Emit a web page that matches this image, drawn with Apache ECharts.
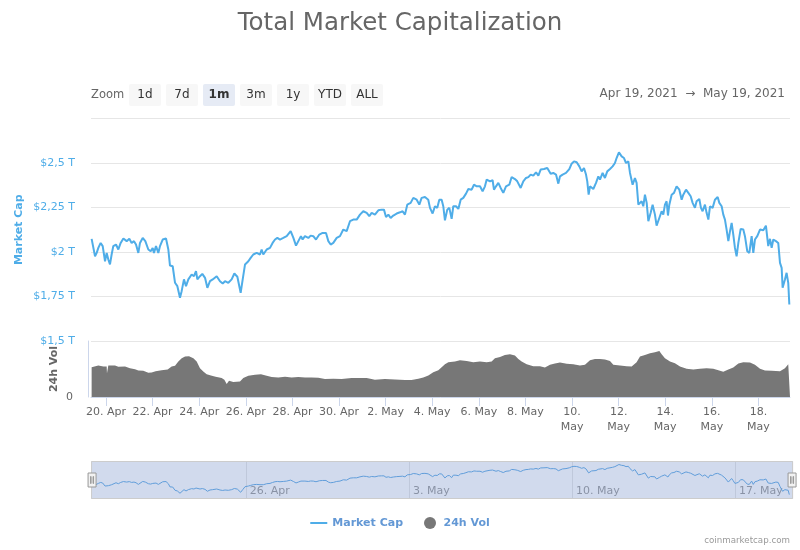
<!DOCTYPE html>
<html><head><meta charset="utf-8">
<script src="https://cdn.jsdelivr.net/npm/echarts@6/dist/echarts.min.js"></script>
<style>html,body{margin:0;padding:0;background:#fff}#c{width:800px;height:550px}</style>
</head><body><div id="c"></div>
<script>
// Hours since 2021-04-19 00:00 and market cap in trillions USD
const capHours = [9.2,12.7,14.4,16.1,18.5,20.6,23.0,24.7,26.4,28.1,29.8,31.5,34.3,36.7,39.1,41.9,45.3,48.0,50.4,52.8,54.9,57.3,59.0,61.8,64.5,67.6,70.0,72.1,73.4,75.5,77.9,79.6,82.4,85.8,88.2,89.9,92.7,95.1,97.5,100.2,101.9,104.3,106.4,108.8,112.2,114.6,116.7,118.1,120.8,123.2,126.0,128.4,131.1,133.9,138.0,141.4,144.2,146.6,150.0,153.4,156.2,159.3,161.3,162.7,164.8,167.2,170.6,173.0,175.7,179.2,182.6,184.3,186.0,189.5,192.9,195.6,198.1,200.5,203.2,206.6,210.1,214.2,217.0,219.7,222.1,224.8,226.5,228.9,232.4,234.8,237.5,240.3,243.7,247.1,250.6,253.0,255.4,258.1,261.6,265.0,268.4,271.9,275.3,278.7,282.2,285.6,289.0,292.5,295.2,297.6,301.0,304.5,307.9,310.3,312.4,314.8,317.2,319.9,323.4,326.8,329.5,331.9,334.3,337.8,340.5,344.0,346.7,349.1,352.5,354.2,355.9,357.7,360.4,362.8,365.2,367.3,
369.7,371.4,373.1,375.5,377.6,380.0,381.7,384.5,386.9,389.3,392.0,394.8,397.2,400.6,403.0,405.8,409.2,411.9,414.3,416.1,419.5,422.2,423.6,425.7,428.1,430.5,433.2,436.0,439.4,441.8,445.2,447.6,451.1,453.8,456.6,459.0,461.4,464.1,466.9,469.3,471.7,475.1,478.5,482.0,484.7,487.5,489.9,491.6,494.3,497.8,501.2,503.6,506.0,508.8,511.5,513.9,516.3,518.4,519.7,521.1,522.5,524.2,525.9,528.7,531.1,532.8,535.5,537.9,540.3,543.1,545.8,548.2,549.9,552.3,555.1,557.5,559.6,562.0,563.7,566.4,568.8,570.5,572.3,574.0,575.7,577.4,579.1,580.9,582.6,585.0,587.0,589.4,591.1,593.9,596.3,598.0,599.7,601.4,602.8,604.2,606.6,609.0,611.7,614.5,616.9,618.6,621.4,623.8,626.2,628.2,630.6,632.3,635.1,636.8,638.5,640.9,642.6,644.4,646.1,648.8,651.2,654.0,655.7,658.1,659.8,661.5,663.2,665.0,666.7,668.4,670.1,671.8,673.5,675.3,677.7,680.4,682.1,684.5,686.6,689.0,690.7,692.4,694.8,697.6,701.0,703.7,706.1,707.9,709.6,711.3,714.0,716.4,718.2,719.9,720.9,723.3,725.0,726.7,727.8];
const capValues = [2.074,1.976,1.995,2.023,2.051,2.033,1.948,1.995,1.958,1.930,1.986,2.033,2.042,2.014,2.051,2.076,2.061,2.074,2.051,2.061,2.042,1.995,2.051,2.079,2.061,2.014,2.004,2.023,1.995,2.033,1.995,2.033,2.070,2.076,2.014,1.924,1.920,1.827,1.808,1.743,1.780,1.846,1.808,1.846,1.874,1.864,1.892,1.846,1.864,1.877,1.855,1.799,1.836,1.846,1.864,1.836,1.823,1.836,1.827,1.846,1.879,1.861,1.808,1.771,1.846,1.930,1.948,1.967,1.986,1.995,1.986,2.014,1.986,2.014,2.023,2.051,2.070,2.079,2.070,2.079,2.089,2.117,2.079,2.036,2.061,2.089,2.070,2.089,2.079,2.092,2.089,2.070,2.098,2.107,2.107,2.061,2.042,2.051,2.079,2.089,2.126,2.117,2.173,2.182,2.182,2.210,2.229,2.220,2.201,2.220,2.210,2.234,2.238,2.238,2.197,2.210,2.191,2.205,2.216,2.223,2.229,2.210,2.266,2.276,2.304,2.294,2.266,2.304,2.309,2.313,2.294,2.248,2.216,2.257,2.248,2.294,
2.294,2.257,2.178,2.238,2.248,2.186,2.257,2.257,2.242,2.294,2.304,2.328,2.354,2.350,2.378,2.369,2.369,2.341,2.369,2.407,2.397,2.403,2.350,2.369,2.388,2.360,2.332,2.369,2.378,2.421,2.410,2.397,2.360,2.397,2.416,2.421,2.435,2.429,2.448,2.429,2.463,2.466,2.472,2.440,2.444,2.435,2.384,2.425,2.435,2.444,2.466,2.496,2.509,2.504,2.481,2.453,2.472,2.435,2.397,2.322,2.369,2.378,2.354,2.388,2.425,2.407,2.444,2.416,2.453,2.466,2.481,2.500,2.528,2.560,2.537,2.528,2.500,2.509,2.444,2.378,2.416,2.388,2.266,2.257,2.285,2.257,2.322,2.276,2.173,2.220,2.266,2.210,2.148,2.191,2.229,2.210,2.266,2.285,2.205,2.266,2.322,2.332,2.369,2.350,2.294,2.322,2.350,2.332,2.313,2.276,2.248,2.285,2.298,2.248,2.229,2.266,2.220,2.182,2.257,2.248,2.294,2.309,2.276,2.257,2.210,2.182,2.126,2.061,2.117,2.163,2.098,2.023,1.976,2.051,2.130,2.126,2.089,2.004,1.995,2.089,1.995,2.070,2.089,2.126,2.122,2.148,2.033,2.074,2.023,2.070,2.061,2.051,1.939,1.911,1.799,1.846,1.883,1.827,1.705];
// Hours since 2021-04-19 00:00 and 24h volume in billions USD
const volHours = [9.2,16.1,21.3,24.7,25.0,26.4,33.3,36.7,43.6,48.7,53.9,57.3,62.4,67.6,71.0,75.1,81.3,87.5,91.6,95.1,98.5,102.0,105.4,109.5,114.0,117.4,120.8,124.2,127.7,132.1,136.9,143.1,145.9,148.3,150.7,155.1,162.0,165.4,170.6,177.5,183.6,189.5,194.6,201.5,208.4,215.2,222.1,229.0,235.8,242.7,249.5,258.1,266.7,277.0,283.9,292.5,301.0,311.3,321.6,332.0,338.8,345.7,350.8,356.0,361.1,366.3,373.1,376.6,383.4,388.6,395.5,402.3,409.2,416.1,421.2,424.6,429.8,434.9,440.1,445.2,448.7,452.1,457.3,464.1,471.0,476.1,481.3,486.4,491.6,498.5,505.3,512.2,517.3,522.5,527.6,532.8,537.9,543.1,546.5,553.4,560.2,565.4,570.5,574.0,579.1,584.3,589.4,593.9,596.3,599.7,604.9,610.0,615.2,622.0,628.9,635.8,642.6,649.5,654.7,659.8,665.0,670.1,675.3,680.4,687.3,692.4,697.6,702.7,709.6,718.2,723.3,726.7,728.5];
const volValues = [159.8,168.6,163.3,163.3,127.8,168.6,168.6,161.5,163.3,154.4,149.1,142.0,140.2,129.6,131.4,138.5,143.8,147.3,163.3,166.9,189.9,207.7,216.6,218.3,207.7,189.9,154.4,136.7,122.5,115.4,108.3,101.2,92.3,69.2,87.0,79.9,83.4,101.2,113.6,118.9,122.5,113.6,106.5,104.8,108.3,104.8,106.5,104.8,104.8,103.0,95.9,97.6,95.9,101.2,101.2,101.2,92.3,95.9,94.1,90.5,90.5,97.6,104.8,115.4,133.1,143.8,175.7,186.4,189.9,197.0,193.5,186.4,189.9,186.4,189.9,207.7,214.8,225.4,229.0,221.9,204.1,189.9,175.7,165.1,165.1,158.0,172.2,179.3,184.6,177.5,175.7,168.6,172.2,197.0,204.1,204.1,200.6,193.5,172.2,168.6,165.1,163.3,186.4,216.6,225.4,234.3,239.6,246.7,229.0,207.7,189.9,181.1,163.3,150.9,147.3,150.9,154.4,150.9,143.8,134.9,147.3,158.0,179.3,186.4,184.6,172.2,150.9,142.0,140.2,138.5,154.4,175.7,179.3];
const xTickDates = ['2021-04-20','2021-04-22','2021-04-24','2021-04-26','2021-04-28','2021-04-30','2021-05-02','2021-05-04','2021-05-06','2021-05-08','2021-05-10','2021-05-12','2021-05-14','2021-05-16','2021-05-18'];
const navTickDates = ['2021-04-26','2021-05-03','2021-05-10','2021-05-17'];
const zoomButtons = ['1d','7d','1m','3m','1y','YTD','ALL'];
const selectedButton = '1m';
const rangeText = 'Apr 19, 2021  \u2192  May 19, 2021';

const MONTHS = ['Jan','Feb','Mar','Apr','May','Jun','Jul','Aug','Sep','Oct','Nov','Dec'];
const BASE = new Date(2021, 3, 19).getTime();
const H = 3600e3;
const toTs = s => { const p = s.split('-').map(Number); return new Date(p[0], p[1]-1, p[2]).getTime(); };
const xTicks = xTickDates.map(toTs);
const navTicks = navTickDates.map(toTs);
const capData = capHours.slice(0, Math.min(capHours.length, capValues.length)).map((h,i)=>[BASE+h*H, capValues[i]]);
const volData = volHours.slice(0, Math.min(volHours.length, volValues.length)).map((h,i)=>[BASE+h*H, volValues[i]]);
const xMin = BASE + 8.55*H, xMax = BASE + 728.5*H;
const navMin = BASE + 7.5*H, navMax = BASE + 730.6*H;

const FONT = 'DejaVu Sans';
const BLUE = '#4fade8';

function fmtMain(v){ const d=new Date(v); const day=d.getDate(), m=MONTHS[d.getMonth()]; return (m==='May' && day>=10) ? day+'.\n'+m : day+'. '+m; }
function fmtNav(v){ const d=new Date(v); return d.getDate()+'. '+MONTHS[d.getMonth()]; }

const graphics = [
  {type:'text', left:91, top:89, style:{text:'Zoom', fontFamily:FONT, fontSize:11.5, fill:'#666'}},
  {type:'text', right:15, top:88, style:{text:rangeText, fontFamily:FONT, fontSize:12, fill:'#666'}},
  {type:'text', right:10, top:536, style:{text:'coinmarketcap.com', fontFamily:FONT, fontSize:8.7, fill:'#999'}}
];
zoomButtons.forEach((b,i)=>{
  const sel = b===selectedButton;
  graphics.push({type:'group', left:129+i*37, top:84, children:[
    {type:'rect', shape:{x:0,y:0,width:32,height:22,r:2}, style:{fill: sel?'#e6ebf5':'#f7f7f7'}},
    {type:'text', x:16, y:11, style:{text:b, fontFamily:FONT, fontSize:12, fontWeight: sel?'bold':'normal', fill:'#333', align:'center', verticalAlign:'middle'}}
  ]});
});

const chart = echarts.init(document.getElementById('c'), null, {renderer:'canvas'});
chart.setOption({
  animation:false,
  textStyle:{fontFamily:FONT},
  title:{text:'Total Market Capitalization', left:'center', top:11, padding:0,
    textStyle:{fontFamily:FONT, fontSize:24.5, fontWeight:'normal', color:'#666'}},
  legend:{data:[{name:'Market Cap', icon:'path://M0,5H17V7H0Z'},{name:'24h Vol', icon:'circle'}], left:'center', top:517, padding:0,
    itemWidth:17, itemHeight:12, itemGap:21, symbolKeepAspect:true,
    textStyle:{fontFamily:FONT, fontSize:11, fontWeight:'bold', color:'#6398d5'}},
  grid:[
    {left:91, right:10, top:118.5, height:222.5},
    {left:91, right:10, top:341, height:56},
    {left:90, right:8, top:461, height:38}
  ],
  xAxis:[
    {gridIndex:0, type:'value', min:xMin, max:xMax, show:false},
    {gridIndex:1, type:'value', min:xMin, max:xMax,
      axisLine:{show:true, lineStyle:{color:'#ccd6eb'}},
      axisTick:{show:true, customValues:xTicks, length:9, lineStyle:{color:'#ccd6eb'}},
      axisLabel:{customValues:xTicks, formatter:fmtMain, color:'#666', fontFamily:FONT, fontSize:11, margin:8, lineHeight:15},
      splitLine:{show:false}},
    {gridIndex:2, type:'value', min:navMin, max:navMax,
      axisLine:{show:false}, axisTick:{show:false, customValues:navTicks},
      axisLabel:{customValues:navTicks, formatter:fmtNav, inside:true, align:'left', padding:[0,0,0,4], margin:2, color:'#999', fontFamily:FONT, fontSize:11},
      splitLine:{show:true, lineStyle:{color:'#e6e6e6'}}}
  ],
  yAxis:[
    {gridIndex:0, type:'value', min:1.5, max:2.75, interval:0.25,
      name:'Market Cap', nameLocation:'middle', nameGap:66, nameRotate:90, nameMoveOverlap:false,
      nameTextStyle:{fontFamily:FONT, fontSize:11, fontWeight:'bold', color:BLUE},
      axisLine:{show:false}, axisTick:{show:false},
      axisLabel:{margin:16, color:BLUE, fontFamily:FONT, fontSize:11,
        formatter:v=> v>=2.75 ? '' : '$'+String(v).replace('.',',')+' T'},
      splitLine:{lineStyle:{color:'#e6e6e6'}}},
    {gridIndex:1, type:'value', min:0, max:300, interval:300, offset:3,
      name:'24h Vol', nameLocation:'middle', nameGap:28, nameRotate:90, nameMoveOverlap:false,
      nameTextStyle:{fontFamily:FONT, fontSize:11, fontWeight:'bold', color:'#666'},
      axisLine:{show:true, lineStyle:{color:'#ccd6eb'}}, axisTick:{show:false},
      axisLabel:{margin:15, color:'#666', fontFamily:FONT, fontSize:11, formatter:v=> v===0 ? '0' : ''},
      splitLine:{lineStyle:{color:'#e6e6e6'}}},
    {gridIndex:2, type:'value', min:1.58, max:2.66, show:false}
  ],
  dataZoom:[{type:'slider', xAxisIndex:2, filterMode:'none', start:0, end:100,
    left:90, right:8, top:461, height:38, showDataShadow:false, showDetail:false, brushSelect:false,
    moveHandleSize:0, backgroundColor:'rgba(0,0,0,0)', borderColor:'#cccccc',
    fillerColor:'rgba(102,133,194,0.3)',
    handleIcon:'path://M0,0H8V14H0Z M2.5,3.5H3V10.5H2.5Z M5,3.5H5.5V10.5H5Z', handleSize:14,
    handleStyle:{color:'#f2f2f2', borderColor:'#999999', borderWidth:1},
    emphasis:{handleStyle:{color:'#f2f2f2', borderColor:'#999999'}}}],
  graphic: graphics,
  series:[
    {name:'Market Cap', type:'line', xAxisIndex:0, yAxisIndex:0, data:capData, symbol:'none', showSymbol:false,
      lineStyle:{color:BLUE, width:2}, itemStyle:{color:BLUE}, z:3},
    {name:'24h Vol', type:'line', xAxisIndex:1, yAxisIndex:1, data:volData, symbol:'none', showSymbol:false,
      lineStyle:{width:0, color:'#777777'}, itemStyle:{color:'#777777'}, areaStyle:{color:'#777777', opacity:1}},
    {name:'nav', type:'line', xAxisIndex:2, yAxisIndex:2, data:capData, symbol:'none', showSymbol:false, silent:true,
      lineStyle:{color:'#5ea8e4', width:1}}
  ]
});
</script></body></html>
